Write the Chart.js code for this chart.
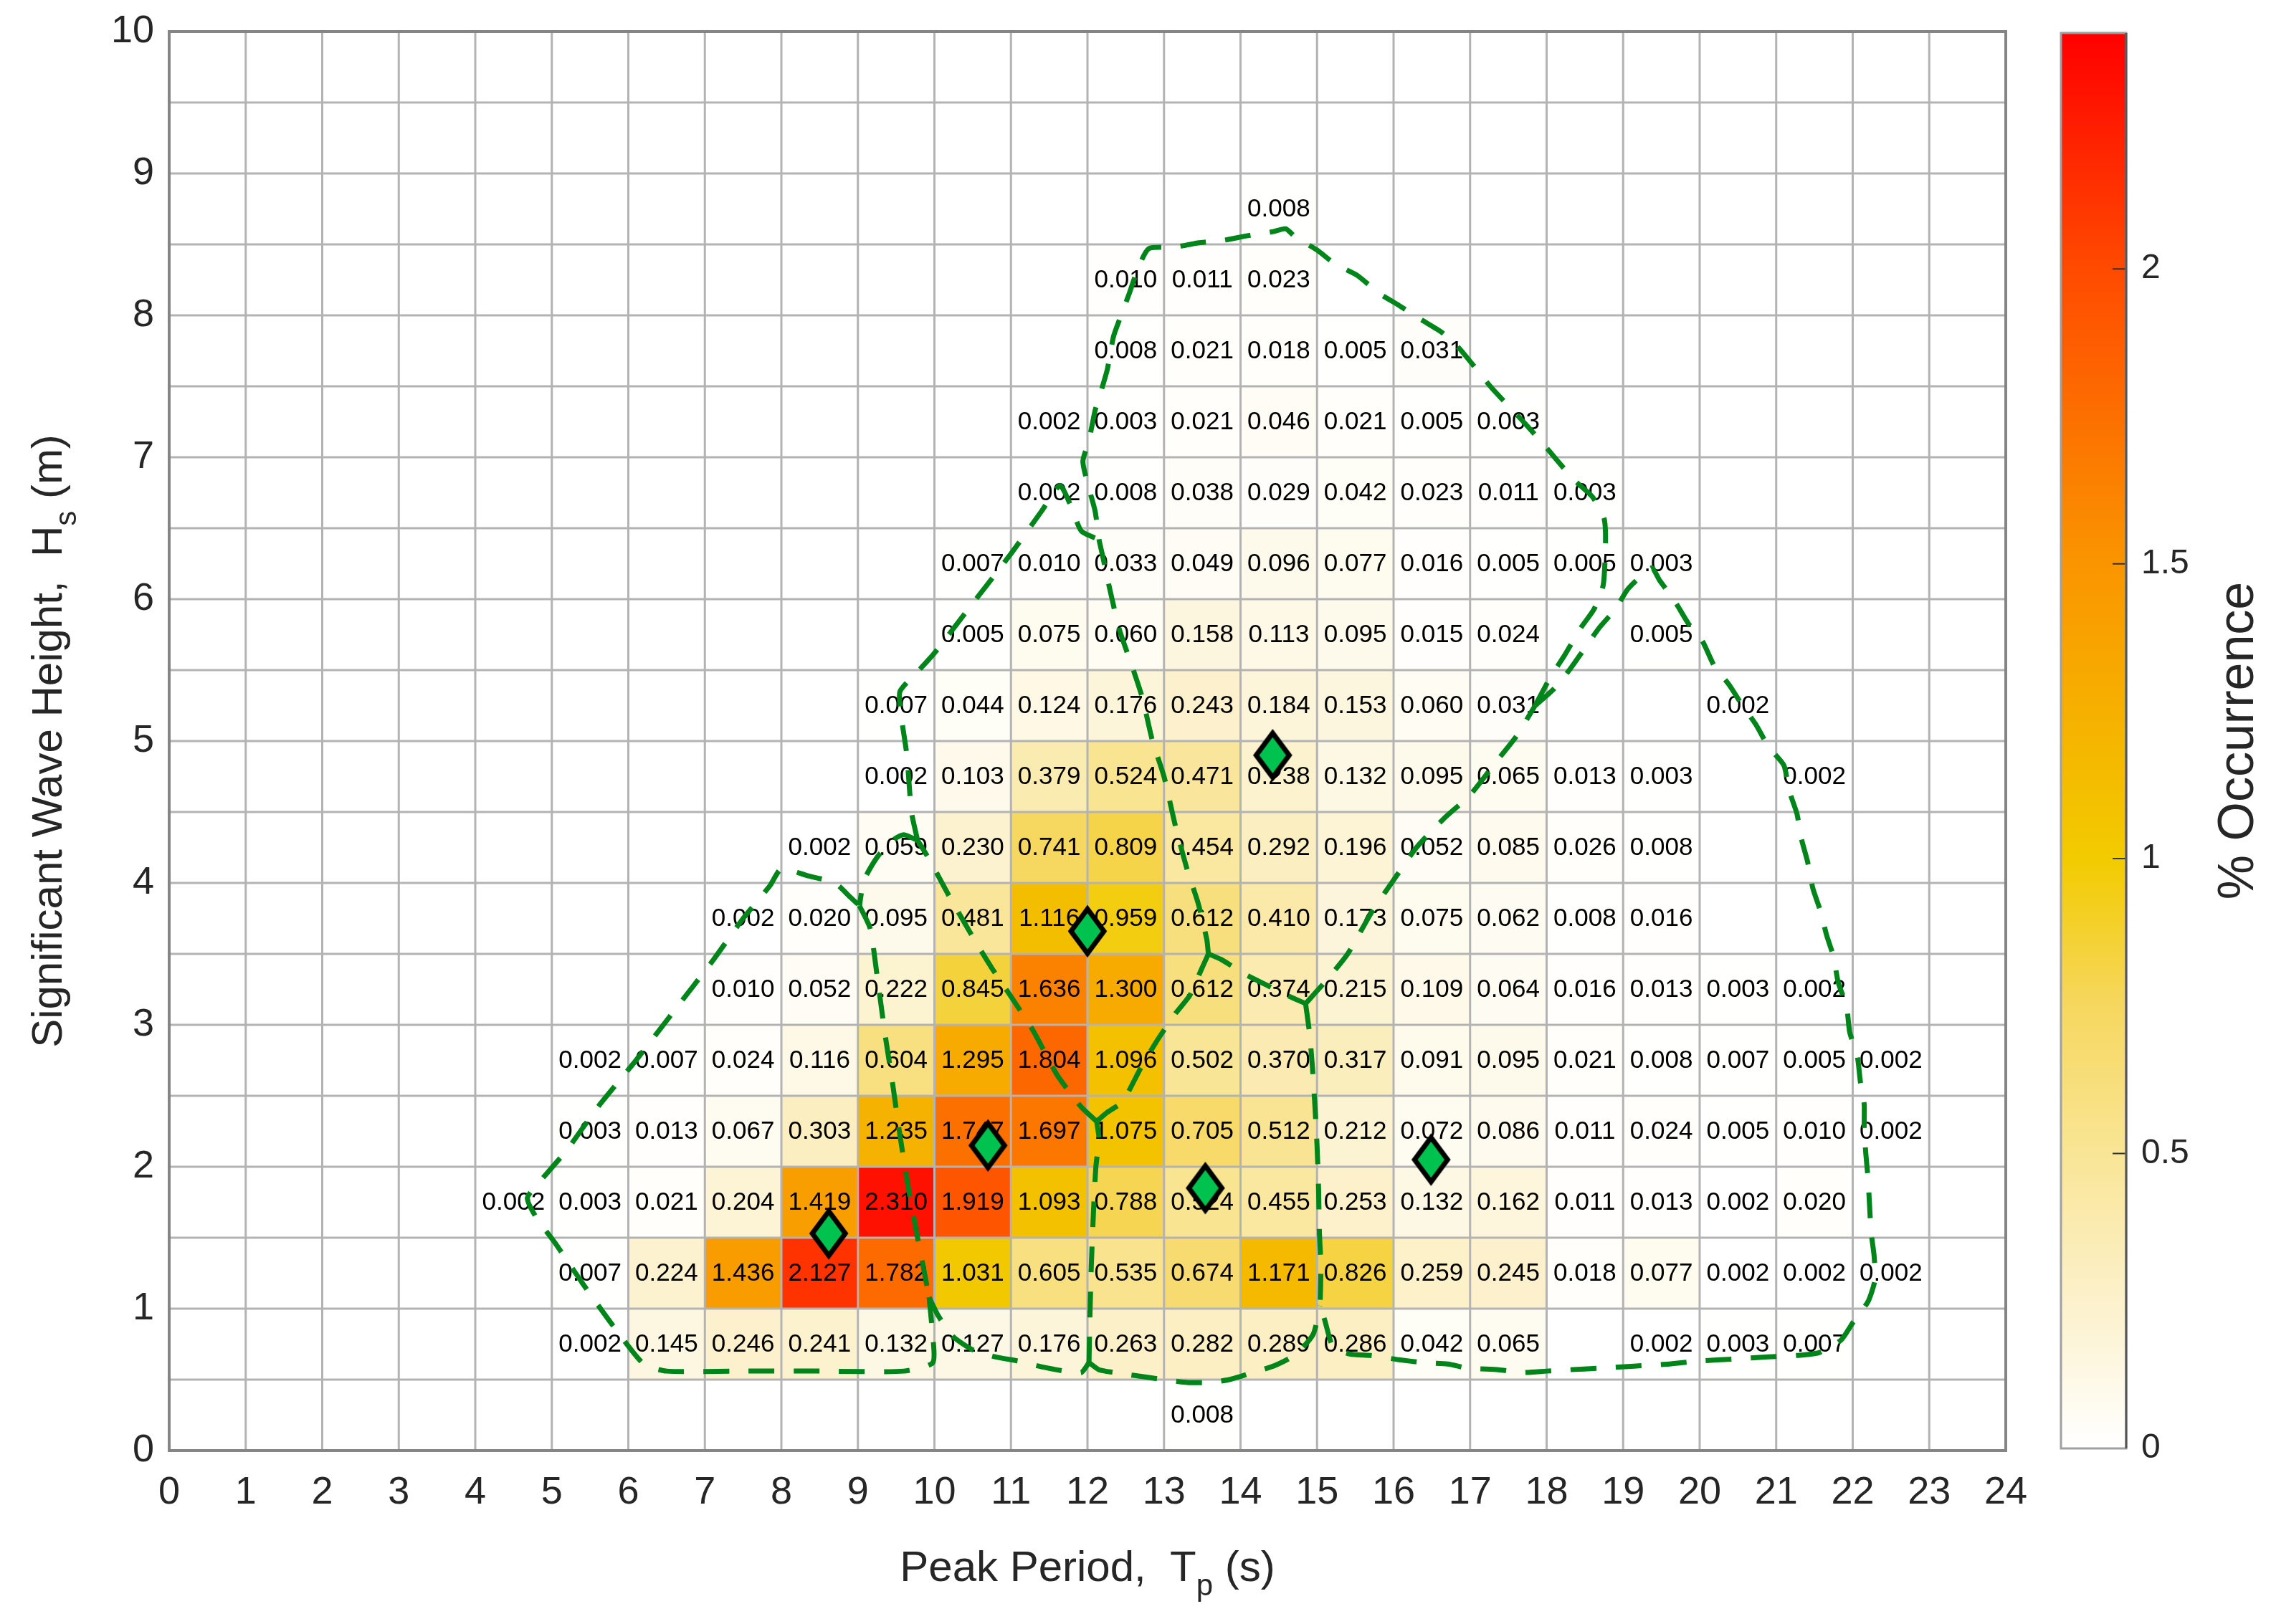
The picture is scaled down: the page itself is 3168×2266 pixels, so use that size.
<!DOCTYPE html>
<html>
<head>
<meta charset="utf-8">
<title>Wave scatter diagram</title>
<script src="https://cdn.jsdelivr.net/npm/chart.js@4.4.1/dist/chart.umd.min.js"></script>
<style>
  html, body { margin: 0; padding: 0; background: #fff; overflow: hidden; }
  #scatter { position: absolute; left: 0; top: 0; }
  #colorbar { position: absolute; left: 2860px; top: 0; }
</style>
</head>
<body>
<canvas id="scatter" width="2860" height="2266"></canvas>
<canvas id="colorbar" width="308" height="2266"></canvas>
<script>
// ---- data ----

// lower edge of each Hs row (m); rows are 0.5 m tall
const hsLower = [0.0, 0.5, 1.0, 1.5, 2.0, 2.5, 3.0, 3.5, 4.0, 4.5, 5.0, 5.5, 6.0, 6.5, 7.0, 7.5, 8.0, 8.5];
// lower edge (s) of the first Tp bin holding a value in that row; bins are 1 s wide
const tpFirst = [13, 5, 5, 4, 5, 5, 7, 7, 8, 9, 9, 10, 10, 11, 11, 12, 12, 14];
// % occurrence, row by row from tpFirst onwards (null = empty bin)
const occurrence = [
    [0.008],
    [0.002, 0.145, 0.246, 0.241, 0.132, 0.127, 0.176, 0.263, 0.282, 0.289, 0.286, 0.042, 0.065, null, 0.002, 0.003, 0.007],
    [0.007, 0.224, 1.436, 2.127, 1.782, 1.031, 0.605, 0.535, 0.674, 1.171, 0.826, 0.259, 0.245, 0.018, 0.077, 0.002, 0.002, 0.002],
    [0.002, 0.003, 0.021, 0.204, 1.419, 2.310, 1.919, 1.093, 0.788, 0.524, 0.455, 0.253, 0.132, 0.162, 0.011, 0.013, 0.002, 0.020],
    [0.003, 0.013, 0.067, 0.303, 1.235, 1.747, 1.697, 1.075, 0.705, 0.512, 0.212, 0.072, 0.086, 0.011, 0.024, 0.005, 0.010, 0.002],
    [0.002, 0.007, 0.024, 0.116, 0.604, 1.295, 1.804, 1.096, 0.502, 0.370, 0.317, 0.091, 0.095, 0.021, 0.008, 0.007, 0.005, 0.002],
    [0.010, 0.052, 0.222, 0.845, 1.636, 1.300, 0.612, 0.374, 0.215, 0.109, 0.064, 0.016, 0.013, 0.003, 0.002],
    [0.002, 0.020, 0.095, 0.481, 1.116, 0.959, 0.612, 0.410, 0.173, 0.075, 0.062, 0.008, 0.016],
    [0.002, 0.059, 0.230, 0.741, 0.809, 0.454, 0.292, 0.196, 0.052, 0.085, 0.026, 0.008],
    [0.002, 0.103, 0.379, 0.524, 0.471, 0.238, 0.132, 0.095, 0.065, 0.013, 0.003, null, 0.002],
    [0.007, 0.044, 0.124, 0.176, 0.243, 0.184, 0.153, 0.060, 0.031, null, null, 0.002],
    [0.005, 0.075, 0.060, 0.158, 0.113, 0.095, 0.015, 0.024, null, 0.005],
    [0.007, 0.010, 0.033, 0.049, 0.096, 0.077, 0.016, 0.005, 0.005, 0.003],
    [0.002, 0.008, 0.038, 0.029, 0.042, 0.023, 0.011, 0.003],
    [0.002, 0.003, 0.021, 0.046, 0.021, 0.005, 0.003],
    [0.008, 0.021, 0.018, 0.005, 0.031],
    [0.010, 0.011, 0.023],
    [0.008]
];

// cluster centres (diamonds)
const centreTp = [8.62, 10.70, 12.00, 13.54, 14.42, 16.49];
const centreHs = [1.53, 2.15, 3.66, 1.85, 4.90, 2.05];

// cluster boundaries (dashed), [Tp, Hs] pairs
const edgeLeftLobe = [[9.93, 1.08], [9.97, 0.85], [9.98, 0.62], [9.6, 0.56], [8.5, 0.56], [7.5, 0.56], [6.5, 0.56],
    [6.2, 0.61], [5.8, 0.88], [5.4, 1.18], [5.06, 1.45], [4.8, 1.64], [4.68, 1.78], [4.85, 1.9], [5.2, 2.12],
    [5.6, 2.42], [6.1, 2.75], [6.6, 3.1], [7.1, 3.45], [7.5, 3.75], [7.85, 3.98], [8.0, 4.1], [8.35, 4.05],
    [8.7, 4.0], [8.9, 3.9], [9.02, 3.84]];
const edgeLobeSplit = [[9.02, 3.84], [9.16, 3.68], [9.25, 3.35], [9.35, 2.95], [9.45, 2.6], [9.55, 2.22],
    [9.66, 1.85], [9.78, 1.5], [9.86, 1.28], [9.93, 1.08]];
const edgeMidBottom = [[9.93, 1.08], [10.05, 0.95], [10.25, 0.8], [10.5, 0.71], [10.8, 0.66], [11.1, 0.63],
    [11.4, 0.59], [11.7, 0.56], [11.92, 0.55], [12.02, 0.62]];
const edgeMidRight = [[12.02, 0.62], [12.03, 0.9], [12.05, 1.3], [12.08, 1.7], [12.11, 2.0], [12.15, 2.2], [12.12, 2.32]];
const edgeMidDiag = [[12.12, 2.32], [11.92, 2.42], [11.6, 2.65], [11.3, 2.95], [11.0, 3.2], [10.75, 3.4],
    [10.5, 3.62], [10.2, 3.9], [9.94, 4.16], [9.78, 4.3]];
const edgeMidTop = [[9.78, 4.3], [9.6, 4.34], [9.45, 4.3], [9.25, 4.18], [9.08, 4.02], [9.02, 3.84]];
const edgeUpperLeft = [[9.78, 4.3], [9.7, 4.5], [9.64, 4.9], [9.56, 5.2], [9.55, 5.35], [9.8, 5.5], [10.0, 5.62],
    [10.4, 5.9], [11.0, 6.32], [11.4, 6.62], [11.64, 6.8], [11.78, 6.66], [11.92, 6.48], [12.15, 6.42]];
const edgeUpperSplit = [[12.15, 6.42], [12.2, 6.3], [12.3, 6.05], [12.42, 5.78], [12.6, 5.5], [12.72, 5.3],
    [12.85, 5.0], [13.0, 4.75], [13.15, 4.4], [13.3, 4.1], [13.45, 3.85], [13.56, 3.6], [13.58, 3.5]];
const edgeYArm = [[12.12, 2.32], [12.25, 2.38], [12.46, 2.46], [12.7, 2.7], [12.91, 2.89], [13.15, 3.08],
    [13.34, 3.21], [13.48, 3.38], [13.58, 3.5]];
const edgeCentreTop = [[13.58, 3.5], [13.75, 3.46], [14.05, 3.36], [14.38, 3.27], [14.64, 3.2], [14.85, 3.15]];
const edgeCentreRight = [[14.85, 3.15], [14.9, 2.95], [14.94, 2.7], [14.97, 2.45], [15.0, 2.15], [15.02, 1.85],
    [15.03, 1.55], [15.05, 1.3], [15.04, 1.02]];
const edgeCentreBottom = [[12.02, 0.62], [12.15, 0.57], [12.35, 0.55], [12.6, 0.53], [13.0, 0.5], [13.3, 0.48],
    [13.6, 0.48], [13.85, 0.5], [14.1, 0.54], [14.45, 0.6], [14.73, 0.68], [14.95, 0.82], [15.04, 1.02]];
const edgeRightDiag = [[14.85, 3.15], [15.1, 3.3], [15.4, 3.5], [15.72, 3.8], [16.0, 4.02], [16.3, 4.25],
    [16.65, 4.45], [17.0, 4.62], [17.35, 4.86], [17.6, 5.03], [17.85, 5.25]];
const edgeTopOuter = [[17.85, 5.25], [18.05, 5.45], [18.23, 5.6], [18.45, 5.8], [18.62, 5.93], [18.74, 6.1],
    [18.77, 6.4], [18.75, 6.57], [18.6, 6.72], [18.36, 6.84], [18.15, 6.97], [17.93, 7.11], [17.68, 7.26],
    [17.28, 7.49], [16.87, 7.76], [16.63, 7.88], [16.36, 7.97], [16.07, 8.07], [15.8, 8.16], [15.53, 8.28],
    [15.24, 8.36], [15.0, 8.46], [14.72, 8.55], [14.59, 8.61], [14.43, 8.59], [14.08, 8.56], [13.79, 8.53],
    [13.44, 8.51], [13.14, 8.48], [12.8, 8.47], [12.66, 8.33], [12.55, 8.16], [12.44, 8.0], [12.34, 7.85],
    [12.26, 7.62], [12.18, 7.47], [12.1, 7.33], [12.02, 7.12], [11.94, 6.97], [12.02, 6.78], [12.1, 6.62],
    [12.15, 6.42]];
const edgeRightOuter = [[17.85, 5.25], [18.1, 5.37], [18.31, 5.51], [18.48, 5.64], [18.69, 5.8], [18.9, 5.93],
    [19.06, 6.07], [19.29, 6.19], [19.38, 6.22], [19.48, 6.13], [19.67, 5.99], [19.85, 5.83], [20.04, 5.7],
    [20.19, 5.53], [20.38, 5.4], [20.56, 5.25], [20.73, 5.12], [20.9, 4.96], [21.1, 4.83], [21.17, 4.65],
    [21.27, 4.49], [21.33, 4.31], [21.41, 4.15], [21.48, 3.96], [21.58, 3.8], [21.66, 3.63], [21.75, 3.48],
    [21.81, 3.3], [21.92, 3.13], [21.96, 2.95], [22.06, 2.78], [22.1, 2.6], [22.15, 2.44], [22.15, 2.28],
    [22.17, 2.1], [22.2, 1.92], [22.22, 1.73], [22.24, 1.54], [22.28, 1.37], [22.29, 1.2], [22.2, 1.05],
    [22.0, 0.9], [21.85, 0.78], [21.56, 0.69], [21.27, 0.67], [20.9, 0.66], [20.6, 0.65], [20.27, 0.64],
    [19.96, 0.63], [19.6, 0.61], [19.3, 0.6], [18.98, 0.59], [18.67, 0.58], [18.31, 0.57], [18.0, 0.56],
    [17.67, 0.55], [17.37, 0.57], [16.98, 0.58], [16.71, 0.61], [16.39, 0.62], [16.07, 0.64], [15.7, 0.67],
    [15.43, 0.68], [15.21, 0.73], [15.1, 0.92], [15.04, 1.02]];

const boundaries = [edgeLeftLobe, edgeLobeSplit, edgeMidBottom, edgeMidRight, edgeMidDiag, edgeMidTop,
    edgeUpperLeft, edgeUpperSplit, edgeYArm, edgeCentreTop, edgeCentreRight, edgeCentreBottom,
    edgeRightDiag, edgeTopOuter, edgeRightOuter];

// colour bar
const cbTicks = [0, 0.5, 1, 1.5, 2];
const cbMax = 2.4;

// ---- styling ----
const FONT = "'Liberation Sans', Arial, Helvetica, sans-serif";
const TEXT = '#262626';
const cmapStops = [0, 0.25, 0.5, 0.75, 1, 1.5, 2, 2.4];
const cmapRgb = [[255, 255, 255], [252, 241, 203], [249, 229, 150], [246, 215, 95],
    [242, 203, 0], [250, 149, 0], [255, 74, 0], [255, 0, 0]];

Chart.defaults.font.family = FONT;
Chart.defaults.color = TEXT;

const rgb = (c) => `rgb(${c[0]}, ${c[1]}, ${c[2]})`;

// piecewise linear colour map
const occColour = (v) => {
    if (v <= cmapStops[0]) return rgb(cmapRgb[0]);
    for (let i = 1; i < cmapStops.length; i++) {
        if (v <= cmapStops[i]) {
            const t = (v - cmapStops[i - 1]) / (cmapStops[i] - cmapStops[i - 1]);
            const a = cmapRgb[i - 1], b = cmapRgb[i];
            return rgb(a.map((c, k) => Math.round(c + (b[k] - c) * t)));
        }
    }
    return rgb(cmapRgb[cmapRgb.length - 1]);
};

// one floating bar per occupied bin
const cells = [];
hsLower.forEach((hs, r) => {
    occurrence[r].forEach((v, k) => {
        if (v === null) return;
        const tp = tpFirst[r] + k;
        cells.push({ x: tp + 0.5, y: [hs, hs + 0.5], v: v });
    });
});

const toPoints = (pairs) => pairs.map(([x, y]) => ({ x: x, y: y }));

// tall diamond marker like the matlab 'd'
const makeDiamond = (w, h, lw) => {
    const c = document.createElement('canvas');
    c.width = w + lw * 2;
    c.height = h + lw * 2;
    const g = c.getContext('2d');
    const cx = c.width / 2, cy = c.height / 2;
    g.beginPath();
    g.moveTo(cx, cy - h / 2);
    g.lineTo(cx + w / 2, cy);
    g.lineTo(cx, cy + h / 2);
    g.lineTo(cx - w / 2, cy);
    g.closePath();
    g.fillStyle = '#00c24f';
    g.fill();
    g.lineWidth = lw;
    g.strokeStyle = '#000000';
    g.stroke();
    return c;
};
const diamond = makeDiamond(46, 62, 7);

// title with one subscript chunk, centred on (x, y) baseline
const drawTitle = (ctx, parts, x, y, angle, size) => {
    ctx.save();
    ctx.translate(x, y);
    ctx.rotate(angle);
    const mainFont = `${size}px ${FONT}`;
    const subFont = `${Math.round(size * 0.7)}px ${FONT}`;
    let total = 0;
    parts.forEach(([t, sub]) => {
        ctx.font = sub ? subFont : mainFont;
        total += ctx.measureText(t).width;
    });
    let pos = -total / 2;
    ctx.fillStyle = TEXT;
    ctx.textAlign = 'left';
    ctx.textBaseline = 'alphabetic';
    parts.forEach(([t, sub]) => {
        ctx.font = sub ? subFont : mainFont;
        ctx.fillText(t, pos, sub ? size * 0.33 : 0);
        pos += ctx.measureText(t).width;
    });
    ctx.restore();
};

// grid + cell labels go right after the coloured cells, under the boundaries
const cellOverlay = {
    id: 'cellOverlay',
    afterDatasetDraw(chart, args) {
        if (args.index !== 0) return;
        const { ctx, chartArea: a, scales: { x, y } } = chart;
        ctx.save();
        ctx.strokeStyle = '#b3b3b3';
        ctx.lineWidth = 3;
        ctx.beginPath();
        x.ticks.forEach(t => {
            const px = x.getPixelForValue(t.value);
            ctx.moveTo(px, a.top);
            ctx.lineTo(px, a.bottom);
        });
        y.ticks.forEach(t => {
            const py = y.getPixelForValue(t.value);
            ctx.moveTo(a.left, py);
            ctx.lineTo(a.right, py);
        });
        ctx.stroke();

        ctx.fillStyle = '#000000';
        ctx.font = `35px ${FONT}`;
        ctx.textAlign = 'center';
        ctx.textBaseline = 'middle';
        cells.forEach(c => {
            const px = x.getPixelForValue(c.x);
            const py = y.getPixelForValue((c.y[0] + c.y[1]) / 2);
            ctx.fillText(c.v.toFixed(3), px, py + 1);
        });
        ctx.restore();
    },
    afterDraw(chart) {
        const { ctx, chartArea: a } = chart;
        ctx.save();
        ctx.strokeStyle = '#858585';
        ctx.lineWidth = 4;
        ctx.strokeRect(a.left, a.top, a.right - a.left, a.bottom - a.top);
        ctx.restore();
        const midX = (a.left + a.right) / 2;
        const midY = (a.top + a.bottom) / 2;
        drawTitle(ctx, [['Peak Period,  T', false], ['p', true], [' (s)', false]], midX, 2206, 0, 60);
        drawTitle(ctx, [['Significant Wave Height,  H', false], ['s', true], [' (m)', false]], 86, midY, -Math.PI / 2, 60);
    }
};

const datasets = [{
    type: 'bar',
    data: cells,
    backgroundColor: (c) => occColour(c.raw ? c.raw.v : 0),
    borderWidth: 0,
    categoryPercentage: 1,
    barPercentage: 1,
    order: 10
}];

boundaries.forEach(edge => {
    datasets.push({
        type: 'line',
        data: toPoints(edge),
        borderColor: '#00851a',
        borderWidth: 7,
        borderDash: [36, 27],
        borderCapStyle: 'butt',
        pointRadius: 0,
        fill: false,
        tension: 0.2,
        order: 5
    });
});

datasets.push({
    type: 'scatter',
    data: centreTp.map((tp, i) => ({ x: tp, y: centreHs[i] })),
    pointStyle: diamond,
    pointRadius: 30,
    order: 0
});

new Chart(document.getElementById('scatter'), {
    type: 'bar',
    data: { datasets: datasets },
    options: {
        responsive: false,
        animation: false,
        layout: { padding: { left: 0, top: 44, right: 62, bottom: 0 } },
        plugins: {
            legend: { display: false },
            tooltip: { enabled: false }
        },
        scales: {
            x: {
                type: 'linear',
                min: 0,
                max: 24,
                offset: false,
                grid: { display: false, drawTicks: false, offset: false },
                border: { display: false },
                ticks: { stepSize: 1, autoSkip: false, maxRotation: 0, padding: 27, font: { size: 54 }, color: TEXT },
                afterFit: (s) => { s.height = 242; s.paddingLeft = 0; s.paddingRight = 0; }
            },
            y: {
                type: 'linear',
                min: 0,
                max: 10,
                grid: { display: false, drawTicks: false },
                border: { display: false },
                ticks: {
                    stepSize: 0.5,
                    autoSkip: false,
                    padding: 21,
                    font: { size: 54 },
                    color: TEXT,
                    callback: (v) => Number.isInteger(v) ? String(v) : ''
                },
                afterFit: (s) => { s.width = 236; s.paddingTop = 0; s.paddingBottom = 0; }
            }
        }
    },
    plugins: [cellOverlay]
});

// ---- colour bar ----
const colorbarOverlay = {
    id: 'colorbarOverlay',
    afterDraw(chart) {
        const { ctx, chartArea: a, scales: { y } } = chart;
        ctx.save();
        ctx.strokeStyle = '#333333';
        ctx.lineWidth = 2;
        ctx.beginPath();
        cbTicks.forEach(v => {
            const py = y.getPixelForValue(v);
            ctx.moveTo(a.right - 19, py);
            ctx.lineTo(a.right, py);
        });
        ctx.stroke();
        ctx.strokeStyle = '#a0a0a0';
        ctx.lineWidth = 3;
        ctx.strokeRect(a.left, a.top, a.right - a.left, a.bottom - a.top);
        ctx.strokeStyle = '#555555';
        ctx.beginPath();
        ctx.moveTo(a.right, a.top);
        ctx.lineTo(a.right, a.bottom);
        ctx.stroke();
        ctx.restore();
        drawTitle(ctx, [['% Occurrence', false]], 283, (a.top + a.bottom) / 2, -Math.PI / 2, 70);
    }
};

new Chart(document.getElementById('colorbar'), {
    type: 'bar',
    data: {
        labels: [''],
        datasets: [{
            data: [[0, cbMax]],
            backgroundColor: (c) => {
                const chart = c.chart;
                if (!chart.chartArea) return '#ffffff';
                const ys = chart.scales.y;
                const g = chart.ctx.createLinearGradient(0, ys.getPixelForValue(0), 0, ys.getPixelForValue(cbMax));
                cmapStops.forEach((s, i) => g.addColorStop(s / cbMax, rgb(cmapRgb[i])));
                return g;
            },
            borderWidth: 0,
            categoryPercentage: 1,
            barPercentage: 1
        }]
    },
    options: {
        responsive: false,
        animation: false,
        layout: { padding: { left: 15, top: 46, right: 0, bottom: 245 } },
        plugins: {
            legend: { display: false },
            tooltip: { enabled: false }
        },
        scales: {
            x: { display: false },
            y: {
                position: 'right',
                min: 0,
                max: cbMax,
                grid: { display: false, drawTicks: false },
                border: { display: false },
                afterBuildTicks: (s) => { s.ticks = cbTicks.map(v => ({ value: v })); },
                ticks: { padding: 21, font: { size: 48 }, color: TEXT, callback: (v) => String(v) },
                afterFit: (s) => { s.width = 202; s.paddingTop = 0; s.paddingBottom = 0; }
            }
        }
    },
    plugins: [colorbarOverlay]
});
</script>
</body>
</html>
